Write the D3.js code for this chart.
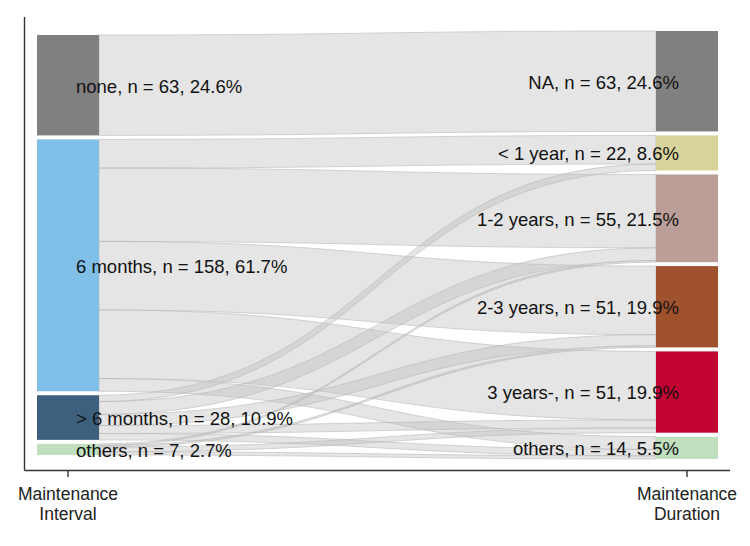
<!DOCTYPE html>
<html>
<head>
<meta charset="utf-8">
<script src="https://cdn.jsdelivr.net/npm/d3@7"></script>
<style>
  html, body { margin: 0; padding: 0; background: #fff; }
  svg { display: block; font-family: "Liberation Sans", Arial, sans-serif; }
</style>
</head>
<body>
<svg id="chart" width="750" height="546"></svg>
<script>
// ---- data ----
const axisLabels = ["Maintenance\nInterval", "Maintenance\nDuration"];
const intervalCats = ["none", "6 months", "> 6 months", "others"];
const durationCats = ["NA", "< 1 year", "1-2 years", "2-3 years", "3 years-", "others"];
const intervalColors = ["#808080", "#80BFE8", "#3C607D", "#BFDFBF"];
const durationColors = ["#808080", "#D8D29B", "#BC9E98", "#A0522D", "#C20433", "#BFDFBF"];
// flow counts: rows = interval category, columns = duration category
const flowNone     = [63, 0, 0, 0, 0, 0];
const flowSixMonth = [0, 18, 46, 43, 43, 8];
const flowOverSix  = [0, 4, 8, 7, 5, 4];
const flowOthers   = [0, 0, 1, 1, 3, 2];
const flowMatrix = [flowNone, flowSixMonth, flowOverSix, flowOthers];

// ---- layout ----
const svg = d3.select("#chart");
const total = d3.sum(flowMatrix.flat());
const gapUnits = 2.5;
const maxStrata = Math.max(intervalCats.length, durationCats.length);
const spanUnits = total + gapUnits * (maxStrata - 1);
const y = d3.scaleLinear().domain([0, spanUnits]).range([31, 459]);
const x = d3.scalePoint().domain(axisLabels).range([68, 687]);
const halfW = 31;

const rowTotals = flowMatrix.map(r => d3.sum(r));
const colTotals = durationCats.map((_, j) => d3.sum(flowMatrix, r => r[j]));

function strataLayout(totals) {
  const used = d3.sum(totals) + gapUnits * (totals.length - 1);
  let pos = (spanUnits - used) / 2;
  return totals.map(t => { const s = pos; pos += t + gapUnits; return { start: s, end: s + t, n: t }; });
}
const leftStrata = strataLayout(rowTotals);
const rightStrata = strataLayout(colTotals);

// flows: left side ordered by destination, right side ordered by source
const flows = [];
const leftCursor = leftStrata.map(s => s.start);
const rightCursor = rightStrata.map(s => s.start);
for (let i = 0; i < intervalCats.length; i++) {
  for (let j = 0; j < durationCats.length; j++) {
    const v = flowMatrix[i][j];
    if (!v) continue;
    flows.push({ i, j, v, l0: leftCursor[i], l1: leftCursor[i] + v });
    leftCursor[i] += v;
  }
}
for (let j = 0; j < durationCats.length; j++) {
  for (let i = 0; i < intervalCats.length; i++) {
    const f = flows.find(f => f.i === i && f.j === j);
    if (!f) continue;
    f.r0 = rightCursor[j]; f.r1 = rightCursor[j] + f.v;
    rightCursor[j] += f.v;
  }
}

const xL = x(axisLabels[0]) + halfW;
const xR = x(axisLabels[1]) - halfW;
const xm = (xL + xR) / 2;
function flowPath(f) {
  const a = y(f.l0), b = y(f.l1), c = y(f.r0), d = y(f.r1);
  return `M${xL},${a} C${xm},${a} ${xm},${c} ${xR},${c} L${xR},${d} C${xm},${d} ${xm},${b} ${xL},${b} Z`;
}

// axes
const axisColor = "#333";
svg.append("line").attr("x1", 24.5).attr("x2", 24.5).attr("y1", 17).attr("y2", 470.5)
  .attr("stroke", axisColor).attr("stroke-width", 1.4);
svg.append("line").attr("x1", 24.5).attr("x2", 730).attr("y1", 470.5).attr("y2", 470.5)
  .attr("stroke", axisColor).attr("stroke-width", 1.4);
axisLabels.forEach(lbl => {
  svg.append("line").attr("x1", x(lbl)).attr("x2", x(lbl)).attr("y1", 470.5).attr("y2", 477)
    .attr("stroke", axisColor).attr("stroke-width", 1.4);
  const t = svg.append("text").attr("text-anchor", "middle").attr("font-size", 17.5).attr("fill", "#222");
  lbl.split("\n").forEach((line, k) => {
    t.append("tspan").attr("x", x(lbl)).attr("y", 500 + k * 19.5).text(line);
  });
});

// flows
svg.append("g").selectAll("path").data(flows).join("path")
  .attr("d", flowPath)
  .attr("fill", "#bfbfbf").attr("fill-opacity", 0.4)
  .attr("stroke", "#b5b5b5").attr("stroke-opacity", 0.55).attr("stroke-width", 1);

// strata
svg.append("g").selectAll("rect").data(leftStrata).join("rect")
  .attr("x", x(axisLabels[0]) - halfW).attr("width", 2 * halfW)
  .attr("y", d => y(d.start)).attr("height", d => y(d.end) - y(d.start))
  .attr("fill", (d, k) => intervalColors[k]);
svg.append("g").selectAll("rect").data(rightStrata).join("rect")
  .attr("x", x(axisLabels[1]) - halfW).attr("width", 2 * halfW)
  .attr("y", d => y(d.start)).attr("height", d => y(d.end) - y(d.start))
  .attr("fill", (d, k) => durationColors[k]);

// labels
const pct = n => (n / total * 100).toFixed(1);
svg.append("g").selectAll("text").data(leftStrata).join("text")
  .attr("x", 76).attr("y", d => (y(d.start) + y(d.end)) / 2).attr("dy", "0.4em")
  .attr("font-size", 18.5).attr("fill", "#111")
  .text((d, k) => `${intervalCats[k]}, n = ${d.n}, ${pct(d.n)}%`);
svg.append("g").selectAll("text").data(rightStrata).join("text")
  .attr("x", 679).attr("text-anchor", "end").attr("y", d => (y(d.start) + y(d.end)) / 2).attr("dy", "0.4em")
  .attr("font-size", 18.5).attr("fill", "#111")
  .text((d, k) => `${durationCats[k]}, n = ${d.n}, ${pct(d.n)}%`);
</script>
</body>
</html>
